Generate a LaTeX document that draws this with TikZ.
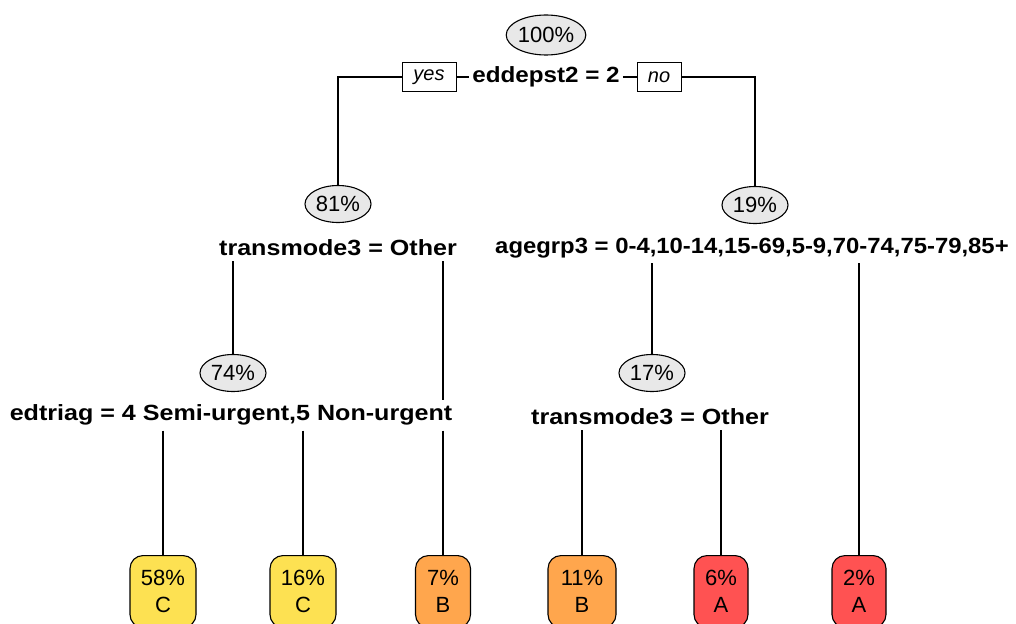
\documentclass[tikz,border=0pt]{standalone}
\usepackage{fontspec}
\setmainfont{Liberation Sans}
\newfontfamily\labfont{Liberation Sans}[FakeStretch=1.1]
\newfontfamily\labfontw{Liberation Sans}[FakeStretch=1.14]
\newfontfamily\labfontn{Liberation Sans}[FakeStretch=1.085]
\usetikzlibrary{shapes.geometric}
\definecolor{leafC}{HTML}{FDE152}
\definecolor{leafB}{HTML}{FFA64D}
\definecolor{leafA}{HTML}{FF5252}
\definecolor{ellfill}{HTML}{E8E8E8}
\begin{document}
\begin{tikzpicture}[x=1pt,y=-1pt,
 pct/.style={ellipse, draw=black, line width=1.1pt, fill=ellfill, inner sep=0pt, minimum width=66pt, minimum height=37pt, font=\fontsize{22}{26}\selectfont},
 splitlab/.style={fill=white, inner xsep=3pt, inner ysep=5pt, font=\labfont\bfseries\fontsize{22}{26}\selectfont},
 wide/.style={font=\labfontw\bfseries\fontsize{22}{26}\selectfont},
 narrow/.style={font=\labfontn\bfseries\fontsize{22}{26}\selectfont},
 yn/.style={draw=black, line width=1pt, fill=white, minimum height=29pt, inner sep=0pt, font=\itshape\fontsize{20}{24}\selectfont},
 leaf/.style={draw=black, line width=1.1pt, rounded corners=13pt, anchor=north, minimum height=72pt, inner sep=0pt, align=center, font=\fontsize{22}{27}\selectfont},
 edge/.style={draw=black, line width=1.4pt}]
\useasboundingbox (0,0) rectangle (1016,623);
\clip (0,0) rectangle (1016,623);
\fill[white] (0,0) rectangle (1016,623);

\node[pct, minimum width=78pt, minimum height=40pt] (n1) at (546,35) {100\%};
\node[splitlab] (s1) at (546,77) {eddepst2 = 2};
\node[yn, minimum width=54pt] (yes) at (429,77) {yes};
\node[yn, minimum width=44pt] (no) at (659,77) {no};
\node[pct] (n2) at (338,204) {81\%};
\node[pct] (n3) at (755,205) {19\%};
\node[splitlab, wide] (s2) at (338,248) {transmode3 = Other};
\node[splitlab, narrow] (s3) at (752,248) {agegrp3 = 0-4,10-14,15-69,5-9,70-74,75-79,85+};
\node[pct] (n4) at (233,373) {74\%};
\node[splitlab, wide] (s4) at (231,415) {edtriag = 4 Semi-urgent,5 Non-urgent};
\node[pct] (n7) at (652,373) {17\%};
\node[splitlab, wide] (s7) at (650,417) {transmode3 = Other};

\node[leaf, fill=leafC, minimum width=66pt] (l1) at (163,555) {58\%\\C};
\node[leaf, fill=leafC, minimum width=66pt] (l2) at (303,555) {16\%\\C};
\node[leaf, fill=leafB, minimum width=55pt] (l3) at (443,555) {7\%\\B};
\node[leaf, fill=leafB, minimum width=68pt] (l4) at (582,555) {11\%\\B};
\node[leaf, fill=leafA, minimum width=54pt] (l5) at (721,555) {6\%\\A};
\node[leaf, fill=leafA, minimum width=54pt] (l6) at (859,555) {2\%\\A};

\draw[edge] (yes.west) -| (n2.north);
\draw[edge] (yes.east) -- (s1.west);
\draw[edge] (s1.east) -- (no.west);
\draw[edge] (no.east) -| (n3.north);
\draw[edge] (s2.south -| n4.north) -- (n4.north);
\draw[edge] (s2.south -| l3.north) -- (s4.north -| l3.north);
\draw[edge] (s4.south -| l3.north) -- (l3.north);
\draw[edge] (s4.south -| l1.north) -- (l1.north);
\draw[edge] (s4.south -| l2.north) -- (l2.north);
\draw[edge] (s3.south -| n7.north) -- (n7.north);
\draw[edge] (s3.south -| l6.north) -- (l6.north);
\draw[edge] (s7.south -| l4.north) -- (l4.north);
\draw[edge] (s7.south -| l5.north) -- (l5.north);
\end{tikzpicture}
\end{document}
